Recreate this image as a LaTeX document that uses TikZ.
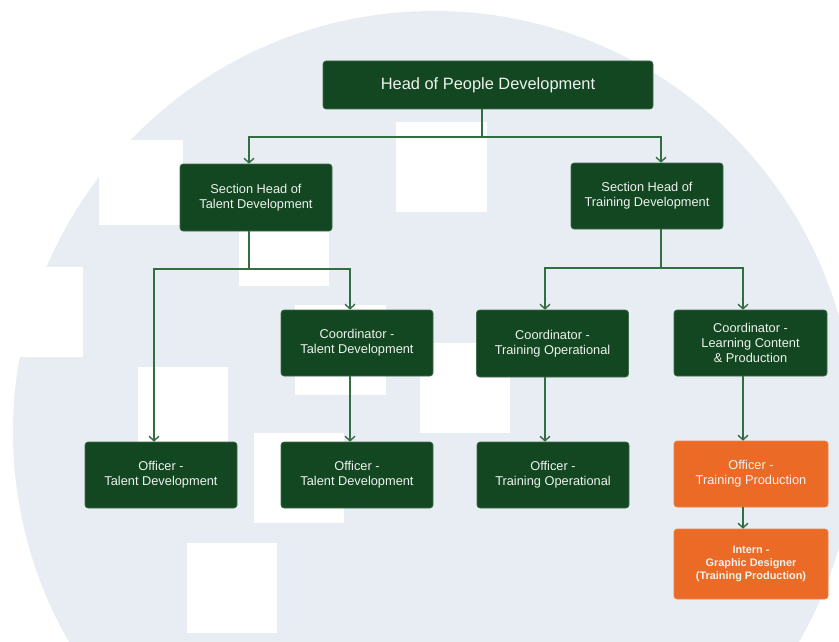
\documentclass[tikz,border=0pt]{standalone}
\usepackage{fontspec}
\setmainfont{Liberation Sans}
\usetikzlibrary{arrows.meta}
\definecolor{bgcircle}{HTML}{E8EDF3}
\definecolor{boxgreen}{HTML}{134721}
\definecolor{boxorange}{HTML}{EB6B26}
\definecolor{linegreen}{HTML}{336E42}
\definecolor{boxtext}{HTML}{EEF2EE}
\tikzset{
  box/.style={draw=boxgreen!80!white, line width=0.6pt, fill=boxgreen, rounded corners=3pt,
    text=boxtext, align=center, minimum width=152pt, minimum height=66pt,
    font=\fontsize{12.8}{15}\selectfont},
  hot/.style={box, fill=boxorange, draw=boxorange!85!white},
  conn/.style={draw=linegreen, line width=1.4pt, -{Straight Barb[length=4.5pt,width=10pt]}},
  link/.style={draw=linegreen, line width=1.4pt},
  blank/.style={fill=white}
}
\begin{document}
\begin{tikzpicture}[x=1pt,y=-1pt]
            \useasboundingbox (0,0) rectangle (839,642);
            \clip (0,0) rectangle (839,642);
            \fill[white] (0,0) rectangle (839,642);
            \fill[bgcircle] (434,432) circle (421);

            \fill[blank] (0,267) rectangle (83,357);
            \fill[blank] (99,140) rectangle (183,225);
            \fill[blank] (396,122) rectangle (487,212);
            \fill[blank] (239,225) rectangle (329,286);
            \fill[blank] (295,305) rectangle (386,395);
            \fill[blank] (138,367) rectangle (228,455);
            \fill[blank] (420,343) rectangle (510,433);
            \fill[blank] (254,433) rectangle (344,523);
            \fill[blank] (187,543) rectangle (277,633);

            \node[box, minimum width=330pt, minimum height=48pt, font=\fontsize{16.4}{19}\selectfont] (head) at (488,85) {Head of People Development};
            \node[box, minimum height=67pt] (sht) at (256,197.5) {Section Head of\\Talent Development};
            \node[box] (shr) at (647,196) {Section Head of\\Training Development};
            \node[box] (ctd) at (357,343) {Coordinator -\\Talent Development};
            \node[box, minimum height=67pt] (cto) at (552.5,343.5) {Coordinator -\\Training Operational};
            \node[box, minimum width=153pt] (clc) at (750.5,343) {Coordinator -\\Learning Content\\\& Production};
            \node[box] (otd1) at (161,475) {Officer -\\Talent Development};
            \node[box] (otd2) at (357,475) {Officer -\\Talent Development};
            \node[box] (oto) at (553,475) {Officer -\\Training Operational};
            \node[hot, minimum width=154pt] (otp) at (751,474) {Officer -\\Training Production};
            \node[hot, minimum width=154pt, minimum height=70pt, font=\fontsize{10.9}{13}\selectfont\bfseries] (itp) at (751,564) {Intern -\\Graphic Designer\\(Training Production)};

            \coordinate (hj) at (482,137);
            \coordinate (tj) at (249,269);
            \coordinate (rj) at (661,268);

            \draw[link] (head.south -| hj) -- (hj);
            \draw[conn] (hj) -| ([xshift=-7pt]sht.north);
            \draw[conn] (hj) -| ([xshift=14pt]shr.north);
            \draw[link] (sht.south -| tj) -- (tj);
            \draw[conn] (tj) -| ([xshift=-7pt]otd1.north);
            \draw[conn] (tj) -| ([xshift=-7pt]ctd.north);
            \draw[conn] ([xshift=-7pt]ctd.south) -- ([xshift=-7pt]otd2.north);
            \draw[link] (shr.south -| rj) -- (rj);
            \draw[conn] (rj) -| ([xshift=-7.5pt]cto.north);
            \draw[conn] (rj) -| ([xshift=-7.5pt]clc.north);
            \draw[conn] ([xshift=-7.5pt]cto.south) -- ([xshift=-8pt]oto.north);
            \draw[conn] ([xshift=-7.5pt]clc.south) -- ([xshift=-8pt]otp.north);
            \draw[conn] ([xshift=-8pt]otp.south) -- ([xshift=-8pt]itp.north);
        \end{tikzpicture}
\end{document}
